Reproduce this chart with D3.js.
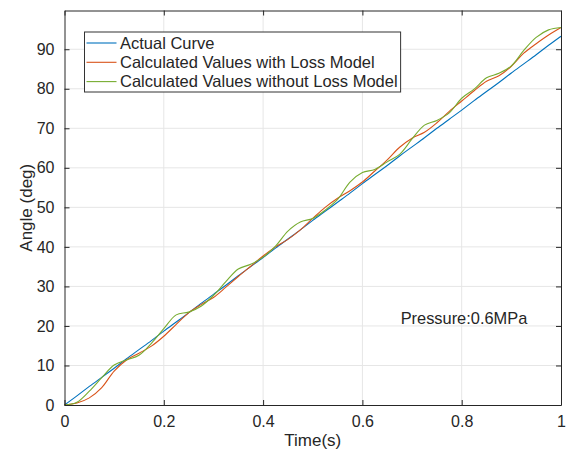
<!DOCTYPE html>
<html>
<head>
<meta charset="utf-8">
<script src="https://cdn.jsdelivr.net/npm/d3@7"></script>
<style>
  body { margin: 0; background: #fff; }
  svg text { font-family: "Liberation Sans", Arial, sans-serif; fill: #262626; }
</style>
</head>
<body>
<svg id="chart" width="570" height="454"></svg>
<script>
// time samples (s)
const time = [0, 0.025, 0.05, 0.075, 0.1, 0.125, 0.15, 0.175, 0.2, 0.225,
  0.25, 0.275, 0.3, 0.325, 0.35, 0.375, 0.4, 0.425, 0.45, 0.475,
  0.5, 0.525, 0.55, 0.575, 0.6, 0.625, 0.65, 0.675, 0.7, 0.725,
  0.75, 0.775, 0.8, 0.825, 0.85, 0.875, 0.9, 0.925, 0.95, 0.975, 1];

const actualCurve = [0, 2.3, 4.7, 7.0, 9.3, 11.7, 14.0, 16.3, 18.7, 21.0,
  23.3, 25.7, 28.0, 30.3, 32.7, 35.0, 37.3, 39.7, 42.0, 44.3,
  46.7, 49.0, 51.3, 53.6, 56.0, 58.3, 60.6, 63.0, 65.3, 67.6,
  70.0, 72.3, 74.6, 77.0, 79.3, 81.6, 84.0, 86.3, 88.6, 91.0, 93.3];

const withLoss = [0, 0.5, 1.8, 4.4, 8.6, 11.4, 13.1, 14.9, 17.4, 20.4,
  23.3, 25.4, 27.2, 29.8, 32.5, 35.1, 37.7, 40.0, 41.9, 44.3,
  47.2, 50.0, 52.3, 54.2, 56.4, 59.2, 62.0, 65.2, 67.5, 69.0,
  71.4, 74.3, 76.9, 79.5, 81.9, 83.3, 85.7, 89.0, 91.4, 93.6, 95.5];

const withoutLoss = [0, 0.7, 3.5, 6.9, 10.1, 11.4, 12.6, 15.6, 19.3, 22.8,
  23.5, 25.0, 27.7, 31.2, 34.4, 35.6, 37.4, 40.2, 44.0, 46.3,
  47.2, 49.3, 52.0, 56.4, 58.8, 59.6, 61.5, 63.4, 67.3, 70.8,
  72.0, 73.9, 77.6, 79.9, 82.8, 83.9, 85.8, 89.7, 93.0, 94.9, 95.5];

const seriesNames = ['Actual Curve', 'Calculated Values with Loss Model', 'Calculated Values without Loss Model'];
const seriesColors = ['#0072BD', '#D95319', '#77AC30'];
const xTicks = [0, 0.2, 0.4, 0.6, 0.8, 1];
const yTicks = [0, 10, 20, 30, 40, 50, 60, 70, 80, 90];
const annotation = { t: 0.677, v: 22, text: 'Pressure:0.6MPa' };

const margin = { top: 10.5, right: 9, bottom: 49, left: 64.5 };
const W = 570, H = 454;
const width = W - margin.left - margin.right;
const height = H - margin.top - margin.bottom;

const svg = d3.select('#chart');
const g = svg.append('g').attr('transform', `translate(${margin.left}, ${margin.top})`);

const x = d3.scaleLinear().domain([0, 1]).range([0, width]);
const y = d3.scaleLinear().domain([0, 99.8]).range([height, 0]);

// grid
g.append('g').selectAll('line').data(xTicks.slice(1, -1)).enter().append('line')
  .attr('x1', d => x(d)).attr('x2', d => x(d)).attr('y1', 0).attr('y2', height)
  .attr('stroke', '#e6e6e6').attr('stroke-width', 1);
g.append('g').selectAll('line').data(yTicks.slice(1)).enter().append('line')
  .attr('x1', 0).attr('x2', width).attr('y1', d => y(d)).attr('y2', d => y(d))
  .attr('stroke', '#e6e6e6').attr('stroke-width', 1);

// curves
const series = [actualCurve, withLoss, withoutLoss];
const line = d3.line()
  .x((d, i) => x(time[i]))
  .y(d => y(d))
  .curve(d3.curveCatmullRom.alpha(0.5));

series.forEach((s, k) => {
  g.append('path')
    .datum(s)
    .attr('fill', 'none')
    .attr('stroke', seriesColors[k])
    .attr('stroke-width', 1.1)
    .attr('d', line);
});

// axes (ticks inward, mirrored on all sides)
const fmt = d => d3.format('~g')(d);
const xAxis = g.append('g').attr('transform', `translate(0, ${height})`)
  .call(d3.axisBottom(x).tickValues(xTicks).tickFormat(fmt).tickSizeInner(-5).tickSizeOuter(0).tickPadding(11));
const yAxis = g.append('g')
  .call(d3.axisLeft(y).tickValues(yTicks).tickFormat(fmt).tickSizeInner(-5).tickSizeOuter(0).tickPadding(10));
const xTop = g.append('g')
  .call(d3.axisTop(x).tickValues(xTicks).tickFormat('').tickSizeInner(-5).tickSizeOuter(0));
const yRight = g.append('g').attr('transform', `translate(${width}, 0)`)
  .call(d3.axisRight(y).tickValues(yTicks).tickFormat('').tickSizeInner(-5).tickSizeOuter(0));

[xAxis, yAxis, xTop, yRight].forEach(a => {
  a.select('.domain').attr('stroke', '#262626');
  a.selectAll('.tick line').attr('stroke', '#262626');
  a.selectAll('text').style('font-size', '16px').attr('fill', '#262626');
});

// axis labels
g.append('text')
  .attr('x', width / 2).attr('y', height + 41)
  .attr('text-anchor', 'middle')
  .style('font-size', '17px')
  .text('Time(s)');

g.append('text')
  .attr('transform', `translate(${-33}, ${height / 2}) rotate(-90)`)
  .attr('text-anchor', 'middle')
  .style('font-size', '17px')
  .text('Angle (deg)');

// annotation
g.append('text')
  .attr('x', x(annotation.t)).attr('y', y(annotation.v))
  .attr('dy', '0.35em')
  .style('font-size', '16.4px')
  .text(annotation.text);

// legend
const legend = g.append('g').attr('transform', 'translate(20, 21.5)');
const rowH = 19.3;
const box = legend.append('rect')
  .attr('fill', '#fff').attr('stroke', '#333').attr('stroke-width', 1);
const rows = legend.selectAll('.row').data(seriesNames).enter().append('g')
  .attr('class', 'row')
  .attr('transform', (d, i) => `translate(0, ${11 + i * rowH})`);
rows.append('line')
  .attr('x1', 2).attr('x2', 32).attr('y1', 0).attr('y2', 0)
  .attr('stroke', (d, i) => seriesColors[i]).attr('stroke-width', 1.1);
rows.append('text')
  .attr('x', 35.5).attr('dy', '0.35em')
  .style('font-size', '16.5px')
  .text(d => d);
let maxW = 0;
rows.selectAll('text').each(function () { maxW = Math.max(maxW, this.getComputedTextLength()); });
box.attr('x', 0).attr('y', 0).attr('width', 35.5 + maxW + 3).attr('height', 60);
</script>
</body>
</html>
